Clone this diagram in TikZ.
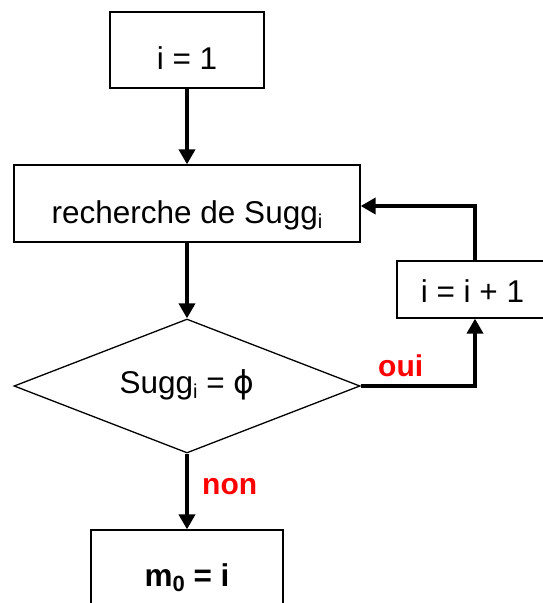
\documentclass[tikz,border=0pt]{standalone}
\usepackage{fontspec}
\setmainfont{Liberation Sans}
\newfontfamily\phifont{DejaVu Sans}
\usetikzlibrary{shapes.geometric,arrows.meta}

% subscript helpers for the flow-chart labels
\newcommand{\lowsub}[1]{\raisebox{-5pt}{\fontsize{20}{20}\selectfont #1}}
\newcommand{\lowsubb}[1]{\raisebox{-5pt}{\fontsize{22}{22}\selectfont\bfseries #1}}

\begin{document}
\begin{tikzpicture}[x=1pt,y=-1pt,
  every node/.style={font=\fontsize{31.5}{36}\selectfont},
  stepbox/.style={draw, line width=1.3pt, inner sep=0pt, align=center},
  decision/.style={draw, diamond, line width=1.3pt, inner sep=0pt, aspect=2.582,
    minimum width=346pt, minimum height=134pt, text height=24pt, text depth=10pt},
  flow/.style={line width=3.8pt, -{Triangle[length=15pt,width=16pt]}},
  answer/.style={text=red, inner sep=0pt, font=\fontsize{30}{34}\selectfont\bfseries}
]
\useasboundingbox (0,0) rectangle (542,603);

% initialisation
\node[stepbox, minimum width=154pt, text height=57pt, text depth=19pt]
  (init) at (187,50) {i = 1};

% search step
\node[stepbox, minimum width=346pt, text height=58pt, text depth=19pt]
  (search) at (187,203.5) {recherche de Sugg\lowsub{i}};

% test on the suggestion set
\node[decision] (test) at (187,386) {Sugg\lowsub{i} = {\phifont ϕ}};

% increment
\node[stepbox, minimum width=151pt, text height=41pt, text depth=16pt]
  (incr) at (472.5,289.5) {i = i + 1};

% result
\node[stepbox, minimum width=192pt, text height=56pt, text depth=20pt]
  (result) at (187,568) {\bfseries m\lowsubb{0} = i};

% corners of the loop
\coordinate (turn) at (475,386);
\coordinate (back) at (475,206);

\draw[flow] (init) -- (search);
\draw[flow] (search) -- (test);
\draw[flow] (test.south) -- (result.north);
\draw[flow] (test.east) -- (turn) -- (incr.south -| turn);
\draw[flow] (incr.north -| back) -- (back) -- (search.east |- back);

% branch labels
\node[answer, anchor=base west] (yes) at (378,376) {oui};
\node[answer, anchor=base west] (no) at (202,494) {non};
\end{tikzpicture}
\end{document}
